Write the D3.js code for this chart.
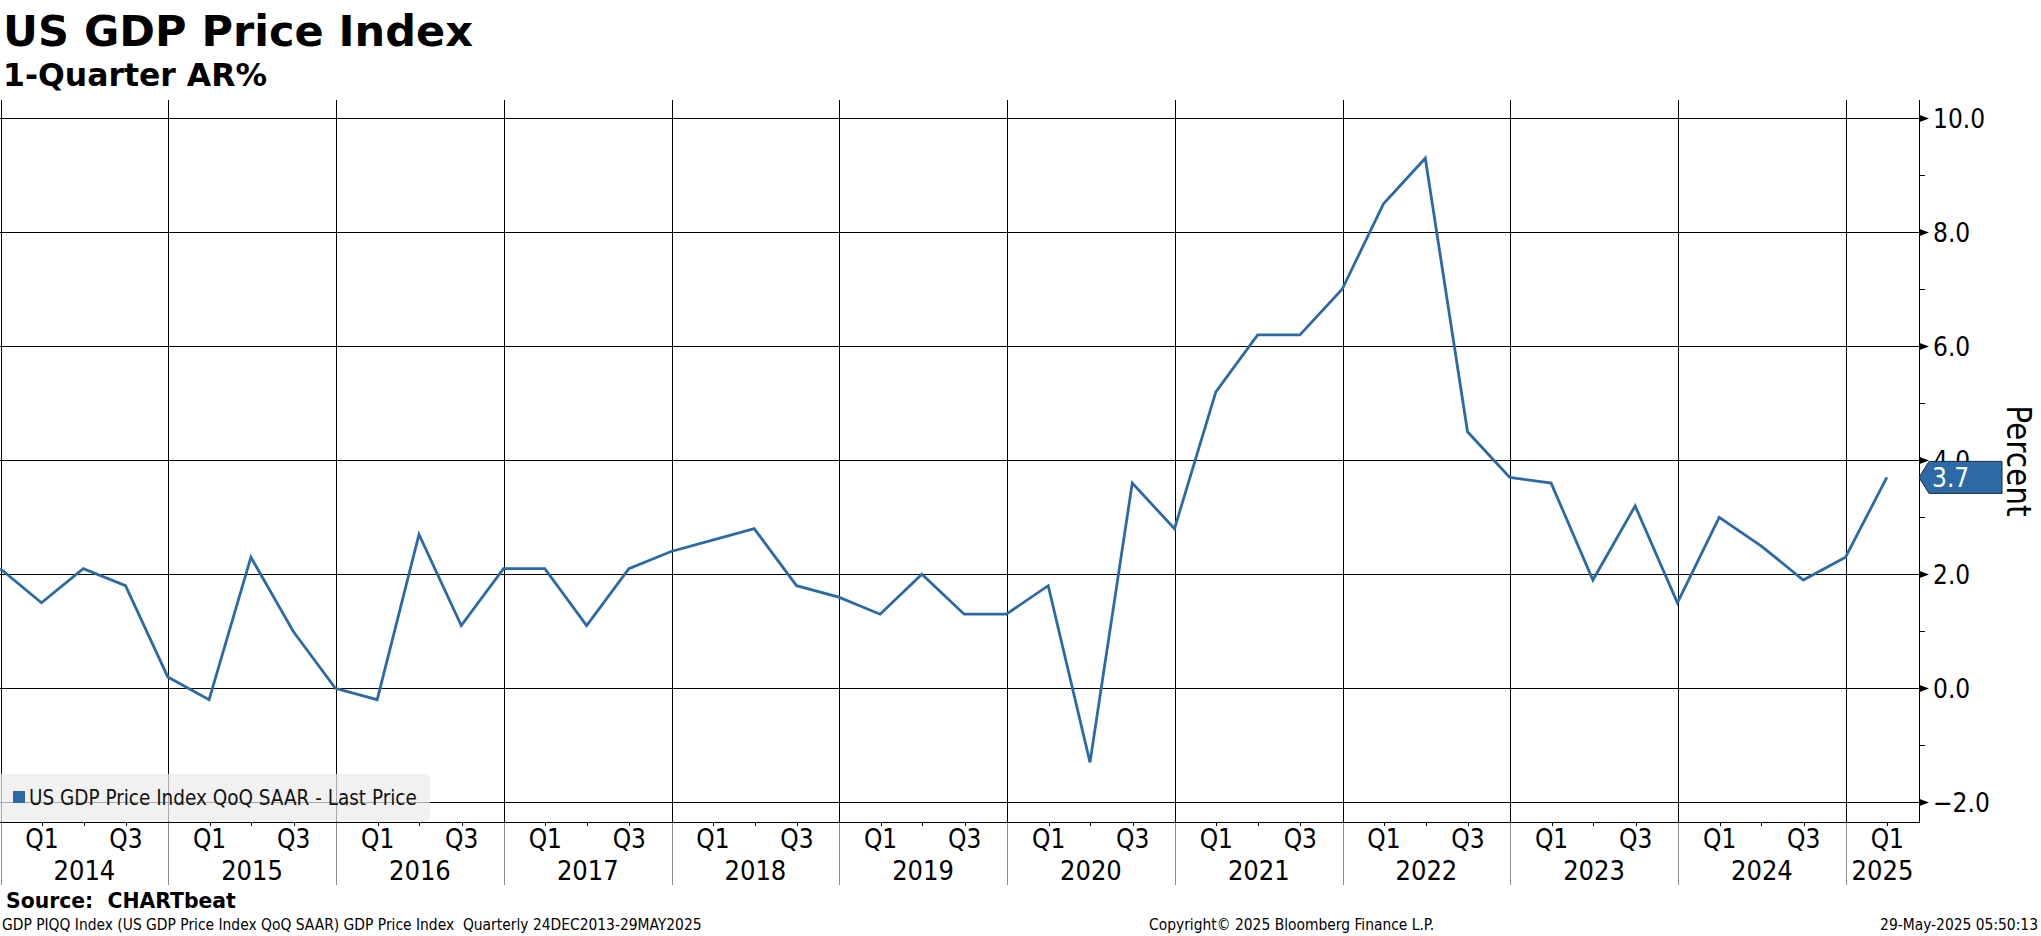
<!DOCTYPE html>
<html>
<head>
<meta charset="utf-8">
<script src="https://cdn.jsdelivr.net/npm/d3@7"></script>
<style>
  html, body { margin: 0; padding: 0; background: #fff; }
  svg { display: block; }
  text { white-space: pre; }
  .cond { font-family: "DejaVu Sans Condensed", "DejaVu Sans", sans-serif; font-stretch: condensed; }
  .bold { font-family: "DejaVu Sans", sans-serif; font-weight: bold; }
</style>
</head>
<body>
<svg id="chart" width="2041" height="936"></svg>
<script>
// ---------------- DATA ----------------
const quarters = [
  "2013Q4",
  "2014Q1","2014Q2","2014Q3","2014Q4",
  "2015Q1","2015Q2","2015Q3","2015Q4",
  "2016Q1","2016Q2","2016Q3","2016Q4",
  "2017Q1","2017Q2","2017Q3","2017Q4",
  "2018Q1","2018Q2","2018Q3","2018Q4",
  "2019Q1","2019Q2","2019Q3","2019Q4",
  "2020Q1","2020Q2","2020Q3","2020Q4",
  "2021Q1","2021Q2","2021Q3","2021Q4",
  "2022Q1","2022Q2","2022Q3","2022Q4",
  "2023Q1","2023Q2","2023Q3","2023Q4",
  "2024Q1","2024Q2","2024Q3","2024Q4",
  "2025Q1"
];
const priceIndexQoQ = [
  2.1,
  1.5, 2.1, 1.8, 0.2,
  -0.2, 2.3, 1.0, 0.0,
  -0.2, 2.7, 1.1, 2.1,
  2.1, 1.1, 2.1, 2.4,
  2.6, 2.8, 1.8, 1.6,
  1.3, 2.0, 1.3, 1.3,
  1.8, -1.3, 3.6, 2.8,
  5.2, 6.2, 6.2, 7.0,
  8.5, 9.3, 4.5, 3.7,
  3.6, 1.9, 3.2, 1.5,
  3.0, 2.5, 1.9, 2.3,
  3.7
];
const yTicks = [-2, 0, 2, 4, 6, 8, 10];
const yMinorTicks = [-1, 1, 3, 5, 7, 9];
const years = [2014,2015,2016,2017,2018,2019,2020,2021,2022,2023,2024,2025];
const quarterLabels = ["Q1", "Q3"];
const seriesName = "US GDP Price Index QoQ SAAR - Last Price";
const titleText = "US GDP Price Index";
const subtitleText = "1-Quarter AR%";
const yAxisTitle = "Percent";
const sourceText = "Source:  CHARTbeat";
const footerLeft = "GDP PIQQ Index (US GDP Price Index QoQ SAAR) GDP Price Index  Quarterly 24DEC2013-29MAY2025";
const footerMid = "Copyright\u00A9 2025 Bloomberg Finance L.P.";
const footerRight = "29-May-2025 05:50:13";

// ---------------- LAYOUT ----------------
const BLUE = "#2c6aa5";
const plot = { left: 0, right: 1919, top: 100, bottom: 821.5 };
const svg = d3.select("#chart");
svg.append("rect").attr("width", 2041).attr("height", 936).attr("fill", "#fff");

const quarterEnd = q => {
  const y = +q.slice(0, 4), n = +q.slice(5);
  return new Date(y, n * 3, 0); // last day of quarter
};
const data = quarters.map((q, i) => ({ date: quarterEnd(q), value: priceIndexQoQ[i] }));

const x = d3.scaleTime()
  .domain([new Date(2014, 0, 1), new Date(2025, 5, 9)])
  .range([0.6, plot.right]);
const y = d3.scaleLinear().domain([-2, 10]).range([802.3, 118.3]);

const crisp = v => Math.round(v) + 0.5;

function fit(sel, w) {
  const l = sel.node().getComputedTextLength();
  const s = parseFloat(sel.attr("font-size"));
  sel.attr("font-size", (s * w / l).toFixed(2));
  return sel;
}

// ---------------- GRID ----------------
const grid = svg.append("g").attr("shape-rendering", "crispEdges");
grid.selectAll("line.h").data(yTicks).join("line")
  .attr("x1", plot.left).attr("x2", plot.right)
  .attr("y1", d => crisp(y(d))).attr("y2", d => crisp(y(d)))
  .attr("stroke", "#000").attr("stroke-width", 1);
grid.selectAll("line.v").data(years).join("line")
  .attr("x1", d => crisp(x(new Date(d, 0, 1)))).attr("x2", d => crisp(x(new Date(d, 0, 1))))
  .attr("y1", plot.top).attr("y2", plot.bottom)
  .attr("stroke", "#000").attr("stroke-width", 1);

// ---------------- LINE ----------------
svg.append("defs").append("clipPath").attr("id", "clip")
  .append("rect").attr("x", 0).attr("y", plot.top)
  .attr("width", plot.right).attr("height", plot.bottom - plot.top);

const line = d3.line().x(d => x(d.date)).y(d => y(d.value));
svg.append("path").datum(data)
  .attr("clip-path", "url(#clip)")
  .attr("d", line)
  .attr("fill", "none")
  .attr("stroke", BLUE)
  .attr("stroke-width", 2.8)
  .attr("stroke-linejoin", "miter");

// ---------------- LEGEND ----------------
const lg = svg.append("g");
lg.append("rect").attr("x", -6).attr("y", 774).attr("width", 436).attr("height", 47.5)
  .attr("rx", 5).attr("fill", "#ececec").attr("fill-opacity", 0.72);
lg.append("rect").attr("x", 13).attr("y", 791).attr("width", 12).attr("height", 12).attr("fill", BLUE);
fit(lg.append("text").attr("class", "cond").attr("x", 29).attr("y", 804.5)
  .attr("font-size", 18).attr("fill", "#111").text(seriesName), 388);

// ---------------- RIGHT AXIS ----------------
const ra = svg.append("g");
ra.append("line").attr("x1", crisp(plot.right)).attr("x2", crisp(plot.right))
  .attr("y1", plot.top).attr("y2", plot.bottom + 0.5)
  .attr("stroke", "#000").attr("shape-rendering", "crispEdges");
ra.selectAll("path.arrow").data(yTicks).join("path")
  .attr("d", d => {
    const yy = crisp(y(d));
    return `M${plot.right},${yy - 3.8}L${plot.right + 10},${yy}L${plot.right},${yy + 3.8}Z`;
  })
  .attr("fill", "#000");
ra.selectAll("line.minor").data(yMinorTicks).join("line")
  .attr("x1", plot.right).attr("x2", plot.right + 6)
  .attr("y1", d => crisp(y(d))).attr("y2", d => crisp(y(d)))
  .attr("stroke", "#000").attr("shape-rendering", "crispEdges");
ra.selectAll("text.yl").data(yTicks).join("text")
  .attr("class", "cond")
  .attr("x", 1933).attr("y", d => y(d)).attr("dy", "0.36em")
  .attr("font-size", 26).attr("fill", "#000")
  .text(d => d3.format(".1f")(d));

svg.append("text").attr("class", "cond")
  .attr("transform", "translate(2007,461) rotate(90)")
  .attr("text-anchor", "middle")
  .attr("font-size", 33).attr("fill", "#000")
  .style("font-stretch", "normal")
  .text(yAxisTitle);

// last value tag
const last = data[data.length - 1];
const ly = y(last.value);
svg.append("path")
  .attr("d", `M${plot.right},${ly}L${plot.right + 10},${ly - 16}L2002,${ly - 16}L2002,${ly + 16}L${plot.right + 10},${ly + 16}Z`)
  .attr("fill", BLUE).attr("stroke", "#1b2a3a").attr("stroke-width", 1);
svg.append("text").attr("class", "cond")
  .attr("x", 1932).attr("y", ly).attr("dy", "0.36em")
  .attr("font-size", 26).attr("fill", "#fff")
  .text(d3.format(".1f")(last.value));

// ---------------- X AXIS ----------------
const xa = svg.append("g");
xa.append("line").attr("x1", 0).attr("x2", plot.right + 0.5)
  .attr("y1", crisp(plot.bottom)).attr("y2", crisp(plot.bottom))
  .attr("stroke", "#000").attr("shape-rendering", "crispEdges");
const qTicks = [];
years.forEach(yr => [3, 6, 9].forEach(m => {
  const d = new Date(yr, m, 1);
  if (x(d) <= plot.right) qTicks.push(d);
}));
xa.selectAll("line.qt").data(qTicks).join("line")
  .attr("x1", d => crisp(x(d))).attr("x2", d => crisp(x(d)))
  .attr("y1", plot.bottom).attr("y2", plot.bottom + 4)
  .attr("stroke", "#000").attr("shape-rendering", "crispEdges");
xa.selectAll("line.ys").data(years).join("line")
  .attr("x1", d => crisp(x(new Date(d, 0, 1)))).attr("x2", d => crisp(x(new Date(d, 0, 1))))
  .attr("y1", plot.bottom + 1).attr("y2", 885)
  .attr("stroke", "#8c8c8c").attr("shape-rendering", "crispEdges");

const qLab = [];
years.forEach(yr => quarterLabels.forEach((lab, i) => {
  const d = new Date(yr, i === 0 ? 3 : 9, 1);
  if (x(d) <= plot.right) qLab.push({ d, lab });
}));
xa.selectAll("text.ql").data(qLab).join("text")
  .attr("class", "cond")
  .attr("x", d => x(d.d)).attr("y", 848)
  .attr("text-anchor", "middle").attr("font-size", 26).attr("fill", "#000")
  .text(d => d.lab);
xa.selectAll("text.yr").data(years).join("text")
  .attr("class", "cond")
  .attr("x", d => (Math.max(x(new Date(d, 0, 1)), 0) + Math.min(x(new Date(d + 1, 0, 1)), plot.right)) / 2)
  .attr("y", 880)
  .attr("text-anchor", "middle").attr("font-size", 27).attr("fill", "#000")
  .text(d => d);

// ---------------- TITLES ----------------
fit(svg.append("text").attr("class", "bold").attr("x", 3).attr("y", 46)
  .attr("font-size", 44).attr("fill", "#000").text(titleText), 470);
fit(svg.append("text").attr("class", "bold").attr("x", 3).attr("y", 86)
  .attr("font-size", 32).attr("fill", "#000").text(subtitleText), 264);

// ---------------- FOOTER ----------------
fit(svg.append("text").attr("class", "bold").attr("x", 6).attr("y", 908)
  .attr("font-size", 20).attr("fill", "#000").text(sourceText), 230);
const fl = fit(svg.append("text").attr("class", "cond").attr("x", 2).attr("y", 930)
  .attr("font-size", 14).attr("fill", "#000").text(footerLeft), 700);
const fs = fl.attr("font-size");
svg.append("text").attr("class", "cond").attr("x", 1149).attr("y", 930)
  .attr("font-size", fs).attr("fill", "#000").text(footerMid);
svg.append("text").attr("class", "cond").attr("x", 2038).attr("y", 930)
  .attr("text-anchor", "end").attr("font-size", fs).attr("fill", "#000").text(footerRight);
</script>
</body>
</html>
